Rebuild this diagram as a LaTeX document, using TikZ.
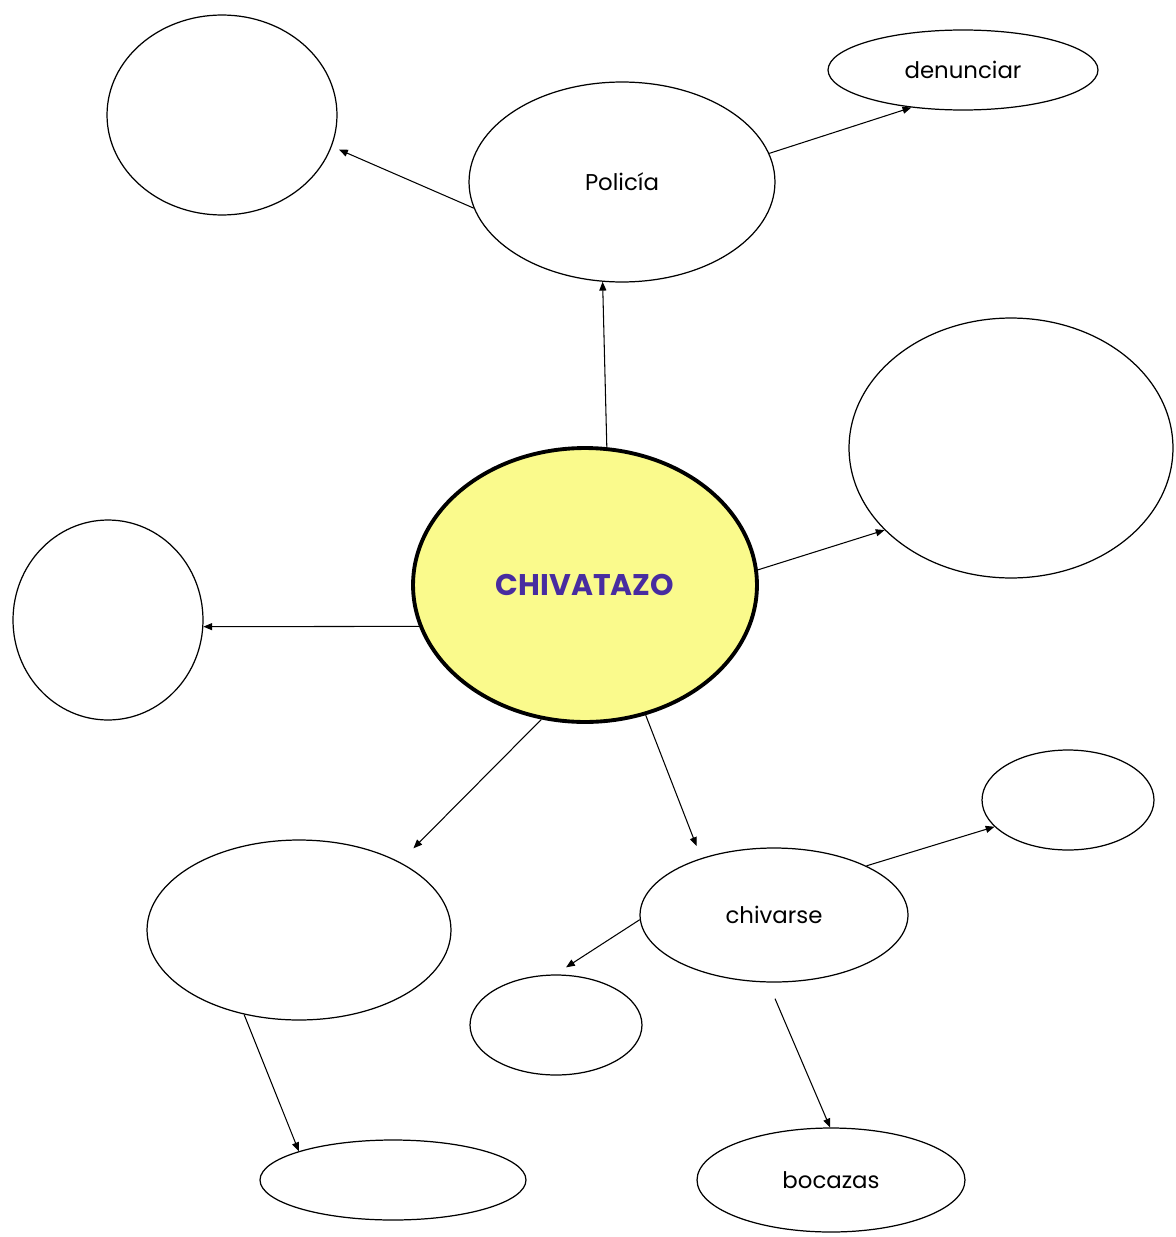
\documentclass[tikz,border=0pt]{standalone}
\usepackage{fontspec}
\setmainfont{Poppins}
\usepackage{xcolor}
\usepackage{tikz}
\usetikzlibrary{
    arrows.meta,
    shapes.geometric
}
\definecolor{bubbleyellow}{RGB}{250,250,140}
\definecolor{titlepurple}{RGB}{72,44,160}
\tikzset{
    % plain empty or labelled bubble
    bubble/.style={
        draw, ellipse, line width=0.7pt, inner sep=0pt,
        font=\fontsize{13}{15}\selectfont
    },
    % the central concept
    mainbubble/.style={
        bubble, fill=bubbleyellow, line width=2.2pt,
        text=titlepurple, font=\fontsize{17}{20}\selectfont\bfseries
    },
    % connector with small filled tip
    link/.style={
        line width=0.6pt,
        -{Triangle[length=5pt,width=4pt]}
    }
}

\begin{document}
\begin{tikzpicture}[x=0.02cm, y=-0.02cm]
            \useasboundingbox (0,0) rectangle (1176,1237);
            \node (chiv) at (585,585)[mainbubble, minimum width=6.88cm, minimum height=5.48cm]{CHIVATAZO};
            \node (poli) at (622,182)[bubble, minimum width=6.12cm, minimum height=4.0cm]{Policía};
            \node (denu) at (963,70)[bubble, minimum width=5.4cm, minimum height=1.6cm]{denunciar};
            \node (topl) at (222,115)[bubble, minimum width=4.6cm, minimum height=4.0cm]{};
            \node (bigr) at (1011,448)[bubble, minimum width=6.48cm, minimum height=5.2cm]{};
            \node (left) at (108,620)[bubble, minimum width=3.8cm, minimum height=4.0cm]{};
            \node (botl) at (299,930)[bubble, minimum width=6.08cm, minimum height=3.6cm]{};
            \node (chvr) at (774,915)[bubble, minimum width=5.36cm, minimum height=2.68cm]{chivarse};
            \node (smlr) at (1068,800)[bubble, minimum width=3.44cm, minimum height=2.0cm]{};
            \node (smlm) at (556,1025)[bubble, minimum width=3.44cm, minimum height=2.0cm]{};
            \node (botb) at (393,1180)[bubble, minimum width=5.32cm, minimum height=1.6cm]{};
            \node (boca) at (831,1180)[bubble, minimum width=5.36cm, minimum height=2.08cm]{bocazas};
            \begin{scope}[link]
                \draw (chiv.81.5) -- (poli.259.8);
                \draw[shorten >=4.5pt] (poli.190) -- (topl.-16.5);
                \draw (poli.11.7) -- (denu.216);
                \draw (chiv.5.6) -- (bigr.213.3);
                \draw (chiv.194) -- (left.-4.7);
                \draw[shorten >=11pt] (chiv.252.5) -- (botl.34.8);
                \draw[shorten >=7.4pt] (chiv.-65) -- (chvr.142);
                \draw (chvr.28.9) -- (smlr.200.4);
                \draw[shorten >=7.4pt] (chvr.182) -- (smlm.91);
                \draw[shorten <=10pt] (chvr.265) -- (boca.91);
                \draw (botl.237.5) -- (botb.163.6);
            \end{scope}
        \end{tikzpicture}
\end{document}
